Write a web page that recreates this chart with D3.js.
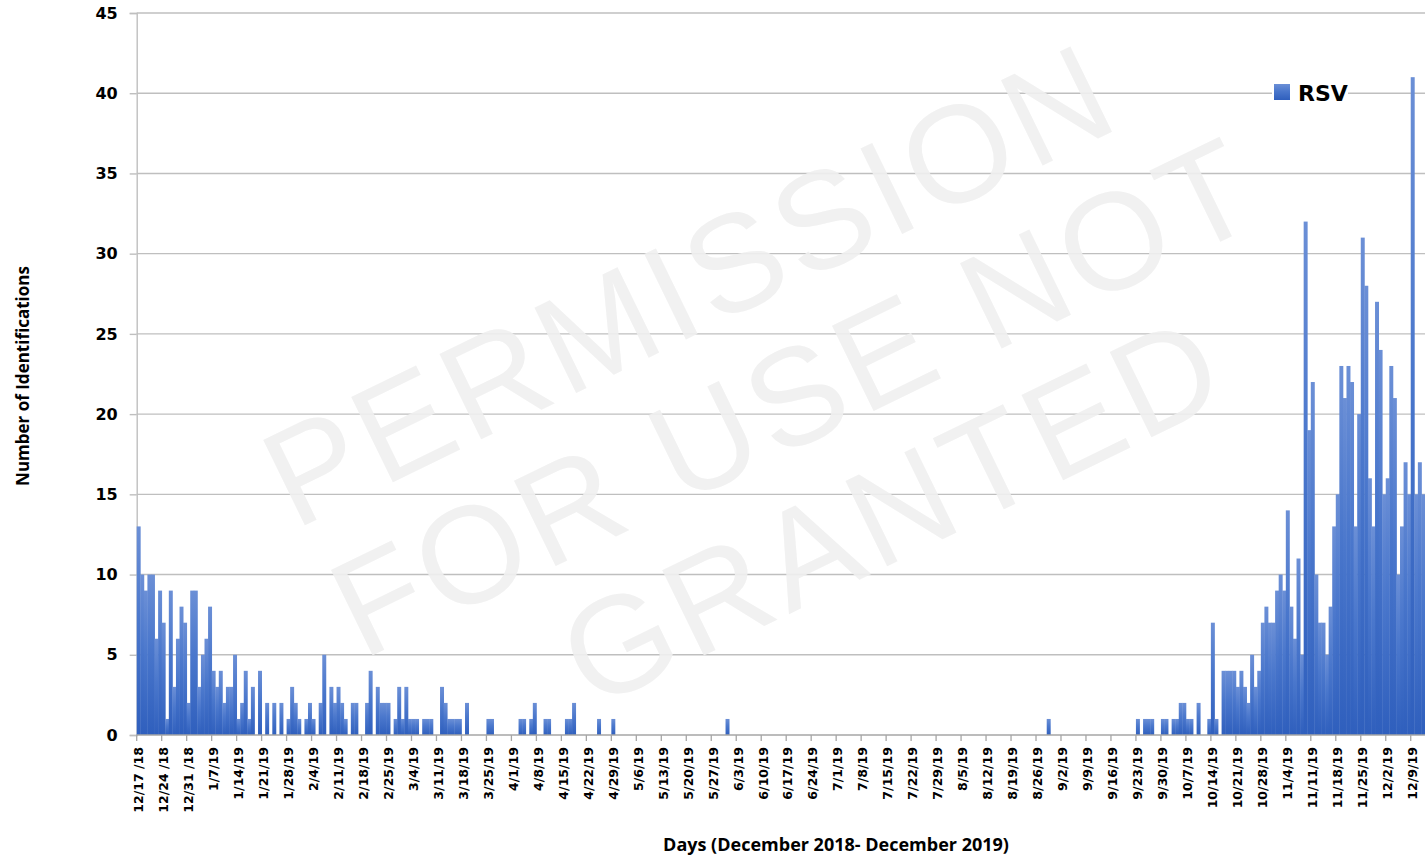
<!DOCTYPE html>
<html><head><meta charset="utf-8">
<script src="https://cdn.jsdelivr.net/npm/d3@7"></script>
<style>body{margin:0;background:#fff;} svg{display:block;}</style>
</head><body>
<svg id="chart" width="1425" height="858"></svg>
<script>
// ---------------- DATA ----------------
const seriesName = "RSV";
const startDate = "2018-12-17";
// daily counts, one row per week starting 12/17/18
const rsvCounts = [
  13,10,9,10,10,6,9,
  7,1,9,3,6,8,7,
  2,9,9,3,5,6,8,
  4,3,4,2,3,3,5,
  1,2,4,1,3,0,4,
  0,2,0,2,0,2,0,
  1,3,2,1,0,1,2,
  1,0,2,5,0,3,2,
  3,2,1,0,2,2,0,
  0,2,4,0,3,2,2,
  2,0,1,3,1,3,1,
  1,1,0,1,1,1,0,
  0,3,2,1,1,1,1,
  0,2,0,0,0,0,0,
  1,1,0,0,0,0,0,
  0,0,1,1,0,1,2,
  0,0,1,1,0,0,0,
  0,1,1,2,0,0,0,
  0,0,0,1,0,0,0,
  1,0,0,0,0,0,0,
  0,0,0,0,0,0,0,
  0,0,0,0,0,0,0,
  0,0,0,0,0,0,0,
  0,0,0,0,1,0,0,
  0,0,0,0,0,0,0,
  0,0,0,0,0,0,0,
  0,0,0,0,0,0,0,
  0,0,0,0,0,0,0,
  0,0,0,0,0,0,0,
  0,0,0,0,0,0,0,
  0,0,0,0,0,0,0,
  0,0,0,0,0,0,0,
  0,0,0,0,0,0,0,
  0,0,0,0,0,0,0,
  0,0,0,0,0,0,0,
  0,0,0,0,0,0,0,
  0,0,0,1,0,0,0,
  0,0,0,0,0,0,0,
  0,0,0,0,0,0,0,
  0,0,0,0,0,0,0,
  1,0,1,1,1,0,0,
  1,1,0,1,1,2,2,
  1,1,0,2,0,0,1,
  7,1,0,4,4,4,4,
  3,4,3,2,5,3,4,
  7,8,7,7,9,10,9,
  14,8,6,11,5,32,19,
  22,10,7,7,5,8,13,
  15,23,21,23,22,13,20,
  31,28,16,13,27,24,15,
  16,23,21,10,13,17,15,
  41,15,17,15
];
const tickLabels = [
  "12/17 /18","12/24 /18","12/31 /18","1/7/19","1/14/19","1/21/19","1/28/19",
  "2/4/19","2/11/19","2/18/19","2/25/19","3/4/19","3/11/19","3/18/19","3/25/19",
  "4/1/19","4/8/19","4/15/19","4/22/19","4/29/19","5/6/19","5/13/19","5/20/19",
  "5/27/19","6/3/19","6/10/19","6/17/19","6/24/19","7/1/19","7/8/19","7/15/19",
  "7/22/19","7/29/19","8/5/19","8/12/19","8/19/19","8/26/19","9/2/19","9/9/19",
  "9/16/19","9/23/19","9/30/19","10/7/19","10/14/19","10/21/19","10/28/19",
  "11/4/19","11/11/19","11/18/19","11/25/19","12/2/19","12/9/19"
];
const yTicks = [0,5,10,15,20,25,30,35,40,45];
const watermarkLines = ["PERMISSION","FOR USE NOT","GRANTED"];
const yTitle = "Number of Identifications";
const xTitle = "Days (December 2018- December 2019)";

// ---------------- CHART ----------------
const svg = d3.select("#chart");
const plotL = 136.7, plotR = 1425, plotT = 13, plotB = 735;

const parse = d3.timeParse("%Y-%m-%d");
const fmt = d3.timeFormat("%-m/%-d/%y");
const d0 = parse(startDate);
const categories = rsvCounts.map((_, i) => fmt(d3.timeDay.offset(d0, i)));

const x = d3.scaleBand().domain(categories).range([plotL, plotR]).paddingInner(0).paddingOuter(0);
const y = d3.scaleLinear().domain([0, 45]).range([plotB, plotT]);

const defs = svg.append("defs");
const grad = defs.append("linearGradient").attr("id","barGrad")
  .attr("x1",0).attr("y1",0).attr("x2",0).attr("y2",1);
grad.append("stop").attr("offset","0%").attr("stop-color","#6b8fd6");
grad.append("stop").attr("offset","45%").attr("stop-color","#4a77cc");
grad.append("stop").attr("offset","100%").attr("stop-color","#2f5fbd");

// gridlines
svg.append("g").selectAll("line").data(yTicks.filter(t => t > 0)).join("line")
  .attr("x1", plotL).attr("x2", plotR)
  .attr("y1", d => y(d)).attr("y2", d => y(d))
  .attr("stroke", "#bfbfbf").attr("stroke-width", 1.4);

// y axis
const yAxis = svg.append("g").attr("transform", `translate(${plotL},0)`)
  .call(d3.axisLeft(y).tickValues(yTicks).tickSize(7).tickPadding(12).tickFormat(d3.format("d")));
yAxis.select(".domain").attr("stroke", "#bfbfbf").attr("stroke-width", 1.4);
yAxis.selectAll(".tick line").attr("stroke", "#bfbfbf").attr("stroke-width", 1.4);
yAxis.selectAll("text").attr("font-family", "DejaVu Sans, Verdana, sans-serif")
  .attr("font-weight", "bold").attr("font-size", "16px").attr("fill", "#000");

// bars
const bw = x.bandwidth();
svg.append("g").selectAll("rect")
  .data(rsvCounts.map((v, i) => ({cat: categories[i], v})).filter(d => d.v > 0))
  .join("rect")
  .attr("x", d => x(d.cat))
  .attr("y", d => y(d.v))
  .attr("width", bw + 0.4)
  .attr("height", d => y(0) - y(d.v))
  .attr("fill", "url(#barGrad)");

// x axis baseline + tick marks at week boundaries
svg.append("line").attr("x1", plotL).attr("x2", plotR).attr("y1", plotB).attr("y2", plotB)
  .attr("stroke", "#a6a6a6").attr("stroke-width", 1.5);
const weekStarts = tickLabels.map((_, k) => categories[k * 7]);
svg.append("g").selectAll("line").data(weekStarts).join("line")
  .attr("x1", d => x(d)).attr("x2", d => x(d))
  .attr("y1", plotB).attr("y2", plotB + 6)
  .attr("stroke", "#a6a6a6").attr("stroke-width", 1.3);

const xAxis = svg.append("g").attr("transform", `translate(0,${plotB})`)
  .call(d3.axisBottom(x).tickValues(weekStarts).tickSize(0)
    .tickFormat(d => tickLabels[weekStarts.indexOf(d)]));
xAxis.select(".domain").remove();
xAxis.selectAll("text")
  .attr("font-family", "DejaVu Sans, Verdana, sans-serif")
  .attr("font-weight", "bold").attr("font-size", "12.5px").attr("fill", "#000")
  .attr("text-anchor", "end")
  .attr("dy", null)
  .attr("y", 0)
  .attr("dominant-baseline", "central")
  .attr("transform", "translate(0,12) rotate(-90)");

// axis titles
svg.append("text").attr("transform", "translate(22,376) rotate(-90)")
  .attr("text-anchor", "middle").attr("dominant-baseline", "central")
  .attr("font-family", "Open Sans, sans-serif").attr("font-weight", 700)
  .attr("font-size", "17px").attr("fill", "#000").text(yTitle);
svg.append("text").attr("x", 836).attr("y", 851)
  .attr("text-anchor", "middle")
  .attr("font-family", "Open Sans, sans-serif").attr("font-weight", 700)
  .attr("font-size", "18px").attr("fill", "#000").text(xTitle);

// legend
const lg = svg.append("g");
lg.append("rect").attr("x", 1272).attr("y", 82).attr("width", 76).attr("height", 22).attr("fill", "#fff");
lg.append("rect").attr("x", 1274).attr("y", 84).attr("width", 16).attr("height", 16).attr("fill", "url(#barGrad)");
lg.append("text").attr("x", 1298).attr("y", 101)
  .attr("font-family", "DejaVu Sans, Verdana, sans-serif").attr("font-weight", "bold")
  .attr("font-size", "22px").attr("fill", "#000").text(seriesName);

// watermark
const wm = svg.append("g").attr("fill", "#f0f0f0").attr("opacity", 0.9)
  .attr("font-family", "Liberation Sans, Arial, sans-serif").attr("font-size", "138px")
  .attr("letter-spacing", "6px");
const wmPos = [[690, 284], [795, 396], [893, 510]];
watermarkLines.forEach((t, i) => {
  wm.append("text").attr("text-anchor", "middle").attr("dominant-baseline", "central")
    .attr("transform", `translate(${wmPos[i][0]},${wmPos[i][1]}) rotate(-26)`).text(t);
});
</script>
</body></html>
